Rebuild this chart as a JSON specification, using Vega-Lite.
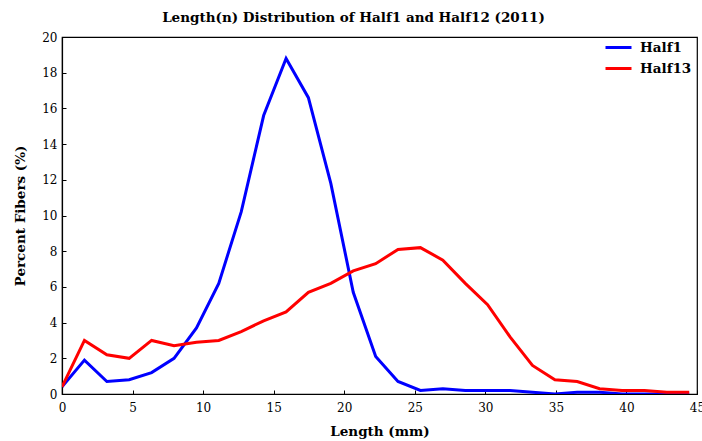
{
  "$schema": "https://vega.github.io/schema/vega-lite/v6.json",
  "width": 635,
  "height": 357,
  "autosize": {"type": "none"},
  "padding": {"left": 62, "top": 37, "right": 5, "bottom": 47},
  "background": "white",
  "config": {
    "font": "DejaVu Serif",
    "view": {"stroke": "#000000", "strokeWidth": 1.2},
    "axis": {
      "grid": false,
      "domainColor": "#000000",
      "domainWidth": 1.2,
      "tickColor": "#000000",
      "labelColor": "#000000",
      "titleColor": "#000000",
      "labelFont": "DejaVu Serif",
      "titleFont": "DejaVu Serif",
      "labelFontSize": 12,
      "titleFontSize": 13.5,
      "titleFontWeight": "bold"
    }
  },
  "title": {
    "text": "Length(n) Distribution of Half1 and Half12 (2011)",
    "font": "DejaVu Serif",
    "fontSize": 13.5,
    "fontWeight": "bold",
    "color": "#000000",
    "anchor": "middle",
    "frame": "group",
    "dx": -26,
    "offset": 7
  },
  "data": {
    "values": [
      {"length": 0, "pct": 0.4, "series": "Half1"},
      {"length": 1.59, "pct": 1.9, "series": "Half1"},
      {"length": 3.18, "pct": 0.7, "series": "Half1"},
      {"length": 4.76, "pct": 0.8, "series": "Half1"},
      {"length": 6.35, "pct": 1.2, "series": "Half1"},
      {"length": 7.94, "pct": 2.0, "series": "Half1"},
      {"length": 9.53, "pct": 3.7, "series": "Half1"},
      {"length": 11.11, "pct": 6.2, "series": "Half1"},
      {"length": 12.7, "pct": 10.2, "series": "Half1"},
      {"length": 14.29, "pct": 15.6, "series": "Half1"},
      {"length": 15.88, "pct": 18.8, "series": "Half1"},
      {"length": 17.46, "pct": 16.6, "series": "Half1"},
      {"length": 19.05, "pct": 11.8, "series": "Half1"},
      {"length": 20.64, "pct": 5.7, "series": "Half1"},
      {"length": 22.23, "pct": 2.1, "series": "Half1"},
      {"length": 23.81, "pct": 0.7, "series": "Half1"},
      {"length": 25.4, "pct": 0.2, "series": "Half1"},
      {"length": 26.99, "pct": 0.3, "series": "Half1"},
      {"length": 28.58, "pct": 0.2, "series": "Half1"},
      {"length": 30.16, "pct": 0.2, "series": "Half1"},
      {"length": 31.75, "pct": 0.2, "series": "Half1"},
      {"length": 33.34, "pct": 0.1, "series": "Half1"},
      {"length": 34.93, "pct": 0.0, "series": "Half1"},
      {"length": 36.51, "pct": 0.1, "series": "Half1"},
      {"length": 38.1, "pct": 0.1, "series": "Half1"},
      {"length": 39.69, "pct": 0.0, "series": "Half1"},
      {"length": 41.28, "pct": 0.0, "series": "Half1"},
      {"length": 42.86, "pct": 0.0, "series": "Half1"},
      {"length": 44.45, "pct": 0.0, "series": "Half1"},
      {"length": 0, "pct": 0.4, "series": "Half13"},
      {"length": 1.59, "pct": 3.0, "series": "Half13"},
      {"length": 3.18, "pct": 2.2, "series": "Half13"},
      {"length": 4.76, "pct": 2.0, "series": "Half13"},
      {"length": 6.35, "pct": 3.0, "series": "Half13"},
      {"length": 7.94, "pct": 2.7, "series": "Half13"},
      {"length": 9.53, "pct": 2.9, "series": "Half13"},
      {"length": 11.11, "pct": 3.0, "series": "Half13"},
      {"length": 12.7, "pct": 3.5, "series": "Half13"},
      {"length": 14.29, "pct": 4.1, "series": "Half13"},
      {"length": 15.88, "pct": 4.6, "series": "Half13"},
      {"length": 17.46, "pct": 5.7, "series": "Half13"},
      {"length": 19.05, "pct": 6.2, "series": "Half13"},
      {"length": 20.64, "pct": 6.9, "series": "Half13"},
      {"length": 22.23, "pct": 7.3, "series": "Half13"},
      {"length": 23.81, "pct": 8.1, "series": "Half13"},
      {"length": 25.4, "pct": 8.2, "series": "Half13"},
      {"length": 26.99, "pct": 7.5, "series": "Half13"},
      {"length": 28.58, "pct": 6.2, "series": "Half13"},
      {"length": 30.16, "pct": 5.0, "series": "Half13"},
      {"length": 31.75, "pct": 3.2, "series": "Half13"},
      {"length": 33.34, "pct": 1.6, "series": "Half13"},
      {"length": 34.93, "pct": 0.8, "series": "Half13"},
      {"length": 36.51, "pct": 0.7, "series": "Half13"},
      {"length": 38.1, "pct": 0.3, "series": "Half13"},
      {"length": 39.69, "pct": 0.2, "series": "Half13"},
      {"length": 41.28, "pct": 0.2, "series": "Half13"},
      {"length": 42.86, "pct": 0.1, "series": "Half13"},
      {"length": 44.45, "pct": 0.1, "series": "Half13"}
    ]
  },
  "mark": {"type": "line", "strokeWidth": 3, "clip": true},
  "encoding": {
    "x": {
      "field": "length",
      "type": "quantitative",
      "scale": {"domain": [0, 45], "nice": false, "zero": false},
      "axis": {
        "title": "Length (mm)",
        "values": [0, 5, 10, 15, 20, 25, 30, 35, 40, 45],
        "tickSize": -4,
        "labelPadding": 12,
        "titlePadding": 11,
        "labelFlush": false,
        "labelOverlap": false
      }
    },
    "y": {
      "field": "pct",
      "type": "quantitative",
      "scale": {"domain": [0, 20], "nice": false},
      "axis": {
        "title": "Percent Fibers (%)",
        "values": [0, 2, 4, 6, 8, 10, 12, 14, 16, 18, 20],
        "tickSize": -4,
        "labelPadding": 9,
        "titlePadding": 14,
        "labelFlush": false,
        "labelOverlap": false
      }
    },
    "color": {
      "field": "series",
      "type": "nominal",
      "scale": {"domain": ["Half1", "Half13"], "range": ["#0000ff", "#ff0000"]},
      "legend": {
        "title": null,
        "orient": "none",
        "legendX": 542,
        "legendY": -4,
        "symbolType": "stroke",
        "symbolSize": 676,
        "symbolStrokeWidth": 3,
        "labelFont": "DejaVu Serif",
        "labelFontSize": 13.5,
        "labelFontWeight": "bold",
        "labelColor": "#000000",
        "rowPadding": -1,
        "labelOffset": 7
      }
    }
  }
}
